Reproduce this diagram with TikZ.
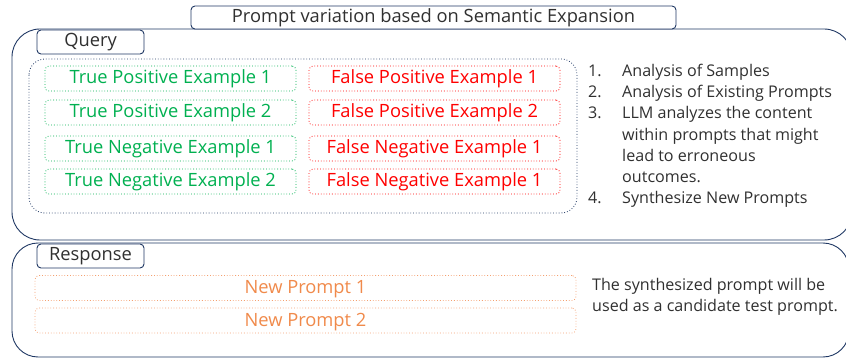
\documentclass[tikz,border=0pt]{standalone}
\usepackage{fontspec}
\setmainfont{Open Sans}
\begin{document}
\begin{tikzpicture}[x=1pt,y=-1pt,
  navy/.style={draw=navyc, line width=0.9pt},
  lbl/.style={navy, rounded corners=4pt, font=\fontsize{18.3}{20}\selectfont, text=txt, inner sep=0pt},
  exg/.style={draw=grn, dotted, line width=0.8pt, rounded corners=4pt, minimum width=251pt, minimum height=25pt, text=grn, inner sep=0pt, text height=14pt, text depth=3pt, font=\fontsize{18.3}{20}\selectfont},
  exr/.style={exg, draw=rd, text=rd},
  exo/.style={exg, draw=orgl, text=org, minimum width=541pt},
  plain/.style={text=txt, inner sep=0pt, font=\fontsize{16.1}{21.3}\selectfont, align=left}]
\definecolor{navyc}{HTML}{203864}
\definecolor{txt}{HTML}{303030}
\definecolor{grn}{HTML}{00B050}
\definecolor{rd}{HTML}{FF0000}
\definecolor{org}{HTML}{F08A4B}
\definecolor{orgl}{HTML}{F4A070}
\useasboundingbox (0,0) rectangle (846,358);
% outer boxes
\draw[navy, rounded corners=28pt] (12,29) rectangle (852,240);
\draw[navy, rounded corners=26pt] (12,243) rectangle (849,357);
% title
\node[lbl, fill=white, minimum width=485pt, minimum height=23pt] (title) at (433.5,17.5) {Prompt variation based on Semantic Expansion};
% labels
\node[lbl, fill=white, minimum width=107pt, minimum height=24pt] (query) at (90.5,42) {Query};
\node[lbl, fill=white, minimum width=107pt, minimum height=24pt] (resp) at (90.5,256) {Response};
% dotted container
\draw[draw=navyc, dotted, line width=0.8pt, rounded corners=16pt] (29,59) rectangle (577,213);
% examples
\node[exg] (tp1) at (170.5,78.5) {True Positive Example 1};
\node[exg] (tp2) at (170.5,112.5) {True Positive Example 2};
\node[exg] (tn1) at (170.5,148.5) {True Negative Example 1};
\node[exg] (tn2) at (170.5,181.5) {True Negative Example 2};
\node[exr] (fp1) at (434.5,78.5) {False Positive Example 1};
\node[exr] (fp2) at (434.5,112.5) {False Positive Example 2};
\node[exr] (fn1) at (434.5,148.5) {False Negative Example 1};
\node[exr] (fn2) at (434.5,181.5) {False Negative Example 1};
% list
\node[plain, anchor=north west] (list) at (588,61) {%
\begin{tabular}{@{}p{34pt}@{}l@{}}
1. & Analysis of Samples\\
2. & Analysis of Existing Prompts\\
3. & LLM analyzes the content\\
   & within prompts that might\\
   & lead to erroneous\\
   & outcomes.\\
4. & Synthesize New Prompts
\end{tabular}};
% response
\node[exo] (np1) at (305.5,288) {New Prompt 1};
\node[exo] (np2) at (305.5,320.5) {New Prompt 2};
\node[plain, anchor=north west] (note) at (592,278) {The synthesized prompt will be\\used as a candidate test prompt.};
\end{tikzpicture}
\end{document}
